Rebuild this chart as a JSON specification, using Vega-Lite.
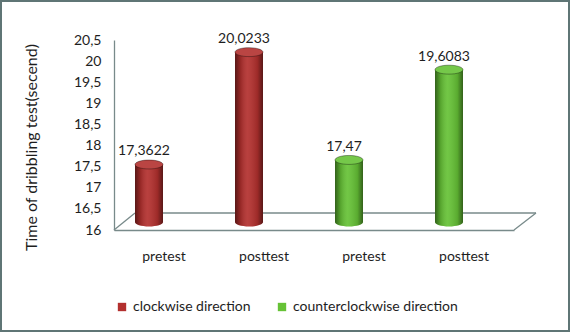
{
  "$schema": "https://vega.github.io/schema/vega-lite/v6.json",
  "width": 570,
  "height": 332,
  "autosize": "none",
  "padding": 0,
  "background": "white",
  "config": {
    "font": "Lato",
    "view": {"stroke": "#5f7575", "strokeWidth": 4},
    "locale": {"number": {"decimal": ",", "thousands": ".", "grouping": [3], "currency": ["", ""]}},
    "axis": {"labelColor": "#1e1e1e", "titleColor": "#1e1e1e", "labelFont": "Lato", "titleFont": "Lato", "titleFontWeight": "normal", "labelOverlap": false},
    "axisY": {"labelOverlap": false, "tickCount": 10}
  },
  "data": {
    "values": [
      {"key": "cw pretest", "test": "pretest", "group": "clockwise direction", "time": 17.3622},
      {"key": "cw posttest", "test": "posttest", "group": "clockwise direction", "time": 20.0233},
      {"key": "ccw pretest", "test": "pretest", "group": "counterclockwise direction", "time": 17.47},
      {"key": "ccw posttest", "test": "posttest", "group": "counterclockwise direction", "time": 19.6083}
    ]
  },
  "layer": [
    {
      "mark": {"type": "bar", "xOffset": -15, "yOffset": -8, "y2Offset": -8},
      "encoding": {
        "x": {
          "field": "key", "type": "nominal",
          "scale": {"domain": ["cw pretest", "cw posttest", "ccw pretest", "ccw posttest"], "range": [114, 514], "paddingInner": 0.72, "paddingOuter": 0.36},
          "axis": {"orient": "bottom", "offset": -102, "title": null, "ticks": false, "labelAngle": 0, "labelFontSize": 14, "labelPadding": 19, "domainColor": "#788a8a", "domainWidth": 1.3,
            "labelExpr": "indexof(datum.label, 'post') >= 0 ? 'posttest' : 'pretest'"}
        },
        "y": {
          "field": "time", "type": "quantitative",
          "scale": {"domain": [16, 20.5], "range": [230, 40], "nice": false, "zero": false},
          "axis": {"orient": "left", "offset": -114, "values": [16, 16.5, 17, 17.5, 18, 18.5, 19, 19.5, 20, 20.5], "format": "~g", "ticks": false, "grid": false, "labelOverlap": false,
            "labelFontSize": 14, "labelPadding": 13, "domainColor": "#788a8a", "domainWidth": 1.3,
            "title": "Time of dribbling test(secend)", "titleFontSize": 16, "titlePadding": 34, "titleY": 147}
        },
        "y2": {"datum": 16},
        "color": {
          "field": "group", "type": "nominal",
          "scale": {"domain": ["clockwise direction", "counterclockwise direction"], "range": ["#b3302e", "#66c236"]},
          "legend": {"orient": "none", "legendX": 115, "legendY": 300, "direction": "horizontal", "title": null, "symbolType": "square", "symbolSize": 70, "symbolStrokeWidth": 0, "labelFontSize": 14, "labelColor": "#1e1e1e", "labelFont": "Lato", "labelLimit": 400, "columnPadding": 24, "labelOffset": 4}
        }
      }
    },
    {
      "data": {"values": [{}]},
      "mark": {"type": "rule", "color": "#788a8a", "strokeWidth": 1.3, "xOffset": -29, "x2Offset": 72, "yOffset": -17, "y2Offset": -17},
      "encoding": {
        "x": {"datum": "cw pretest", "type": "nominal"},
        "x2": {"datum": "ccw posttest"},
        "y": {"datum": 16, "type": "quantitative"},
        "y2": {"datum": 16}
      }
    },
    {
      "data": {"values": [{}]},
      "mark": {"type": "rule", "color": "#788a8a", "strokeWidth": 1.3, "xOffset": -50, "x2Offset": -29, "yOffset": 0, "y2Offset": -17},
      "encoding": {
        "x": {"datum": "cw pretest", "type": "nominal"},
        "x2": {"datum": "cw pretest"},
        "y": {"datum": 16, "type": "quantitative"},
        "y2": {"datum": 16}
      }
    },
    {
      "data": {"values": [{}]},
      "mark": {"type": "rule", "color": "#788a8a", "strokeWidth": 1.3, "xOffset": 50, "x2Offset": 72, "yOffset": 0, "y2Offset": -17},
      "encoding": {
        "x": {"datum": "ccw posttest", "type": "nominal"},
        "x2": {"datum": "ccw posttest"},
        "y": {"datum": 16, "type": "quantitative"},
        "y2": {"datum": 16}
      }
    },
    {
      "mark": {"type": "point", "shape": "M -1 0 A 1 0.32 0 1 0 1 0 A 1 0.32 0 1 0 -1 0 Z", "size": 784, "filled": true, "opacity": 1, "xOffset": -15, "yOffset": -8},
      "encoding": {
        "x": {"field": "key", "type": "nominal"},
        "y": {"datum": 16, "type": "quantitative"},
        "color": {"field": "group", "type": "nominal"}
      }
    },
    {
      "mark": {"type": "point", "shape": "M -1 0 A 1 0.32 0 1 0 1 0 A 1 0.32 0 1 0 -1 0 Z", "size": 784, "filled": true, "opacity": 1, "xOffset": -15, "yOffset": -8,
        "fill": {"gradient": "linear", "x1": 0, "x2": 1, "y1": 0, "y2": 0, "stops": [
          {"offset": 0, "color": "rgba(0,0,0,0.5)"},
          {"offset": 0.2, "color": "rgba(0,0,0,0.15)"},
          {"offset": 0.45, "color": "rgba(255,255,255,0.08)"},
          {"offset": 0.8, "color": "rgba(0,0,0,0.12)"},
          {"offset": 1, "color": "rgba(0,0,0,0.5)"}]}},
      "encoding": {
        "x": {"field": "key", "type": "nominal"},
        "y": {"datum": 16, "type": "quantitative"}
      }
    },
    {
      "mark": {"type": "bar", "xOffset": -15, "yOffset": -8, "y2Offset": -8},
      "encoding": {
        "x": {"field": "key", "type": "nominal"},
        "y": {"field": "time", "type": "quantitative"},
        "y2": {"datum": 16},
        "color": {"field": "group", "type": "nominal"}
      }
    },
    {
      "mark": {"type": "bar", "xOffset": -15, "yOffset": -8, "y2Offset": -8,
        "fill": {"gradient": "linear", "x1": 0, "x2": 1, "y1": 0, "y2": 0, "stops": [
          {"offset": 0, "color": "rgba(0,0,0,0.5)"},
          {"offset": 0.2, "color": "rgba(0,0,0,0.15)"},
          {"offset": 0.45, "color": "rgba(255,255,255,0.08)"},
          {"offset": 0.8, "color": "rgba(0,0,0,0.12)"},
          {"offset": 1, "color": "rgba(0,0,0,0.5)"}]}},
      "encoding": {
        "x": {"field": "key", "type": "nominal"},
        "y": {"field": "time", "type": "quantitative"},
        "y2": {"datum": 16}
      }
    },
    {
      "mark": {"type": "point", "shape": "M -1 0 A 1 0.32 0 1 0 1 0 A 1 0.32 0 1 0 -1 0 Z", "size": 784, "filled": true, "opacity": 1, "xOffset": -15, "yOffset": -8},
      "encoding": {
        "x": {"field": "key", "type": "nominal"},
        "y": {"field": "time", "type": "quantitative"},
        "color": {"field": "group", "type": "nominal"}
      }
    },
    {
      "mark": {"type": "point", "shape": "M -1 0 A 1 0.32 0 1 0 1 0 A 1 0.32 0 1 0 -1 0 Z", "size": 784, "filled": true, "opacity": 1, "xOffset": -15, "yOffset": -8,
        "fill": "rgba(255,255,255,0.1)", "stroke": "rgba(0,0,0,0.35)", "strokeWidth": 1},
      "encoding": {
        "x": {"field": "key", "type": "nominal"},
        "y": {"field": "time", "type": "quantitative"}
      }
    },
    {
      "mark": {"type": "text", "fontSize": 14, "color": "#1e1e1e", "xOffset": -20, "yOffset": -21, "baseline": "middle", "font": "Lato"},
      "encoding": {
        "x": {"field": "key", "type": "nominal"},
        "y": {"field": "time", "type": "quantitative"},
        "text": {"field": "time", "type": "quantitative", "format": "~g"}
      }
    }
  ]
}
